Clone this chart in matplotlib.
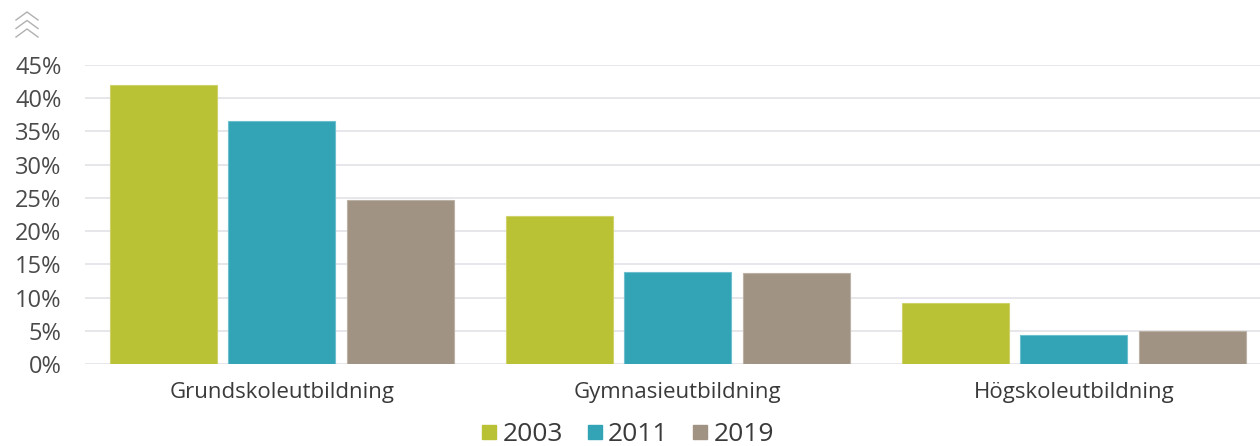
import matplotlib.pyplot as plt
import numpy as np
from matplotlib.lines import Line2D

plt.rcParams['font.family'] = ['Open Sans', 'DejaVu Sans']

categories = ['Grundskoleutbildning', 'Gymnasieutbildning', 'Högskoleutbildning']
years = ['2003', '2011', '2019']
v2003 = [42.0, 22.3, 9.2]
v2011 = [36.5, 13.9, 4.3]
v2019 = [24.7, 13.7, 5.0]
yticks = [0, 5, 10, 15, 20, 25, 30, 35, 40, 45]

colors = ['#b9c135', '#33a3b6', '#a09384']
edges = ['#cdd36a', '#6cc0cd', '#bbb1a5']

fig = plt.figure(figsize=(12.6, 4.46), dpi=100)
ax = fig.add_axes([85 / 1260, 1 - 364 / 446, 1 - 85 / 1260, (364 - 65) / 446])

x = np.arange(len(categories))
pitch = 118.5 / 396
width = 107 / 396
for i, (vals, lab) in enumerate(zip([v2003, v2011, v2019], years)):
    ax.bar(x + (i - 1) * pitch, vals, width, color=colors[i], edgecolor=edges[i],
           linewidth=0.8, label=lab, zorder=3)

ax.set_xlim(-0.497, 2.47)
ax.set_ylim(0, 45)
ax.set_yticks(yticks)
ax.set_yticklabels([f'{t}%' for t in yticks])
ax.set_xticks(x)
ax.set_xticklabels(categories)
ax.grid(axis='y', color='#e1e1e8', linewidth=1.2, zorder=0)
for s in ax.spines.values():
    s.set_visible(False)
ax.tick_params(axis='y', length=0, pad=17, labelsize=17, labelcolor='#4a4a4a')
ax.tick_params(axis='x', length=0, pad=13, labelsize=16, labelcolor='#3a3a3a')

handles = [Line2D([], [], marker='s', linestyle='none', markersize=10.5,
                  color=c) for c in colors]
fig.legend(handles, years, loc='lower center', bbox_to_anchor=(0.495, -0.056),
           ncol=3, frameon=False, fontsize=19, handletextpad=-0.1,
           handlelength=1.2, columnspacing=0.6, labelcolor='#3a3a3a')

# small chevron icon top-left
for k in range(3):
    y0 = 1 - (12 + k * 8.5) / 446
    fig.add_artist(Line2D([16 / 1260, 27 / 1260, 38 / 1260],
                          [y0 - 8 / 446, y0, y0 - 8 / 446],
                          transform=fig.transFigure, color='#b0b0b0', lw=1))

fig.savefig('out.png', dpi=100)
